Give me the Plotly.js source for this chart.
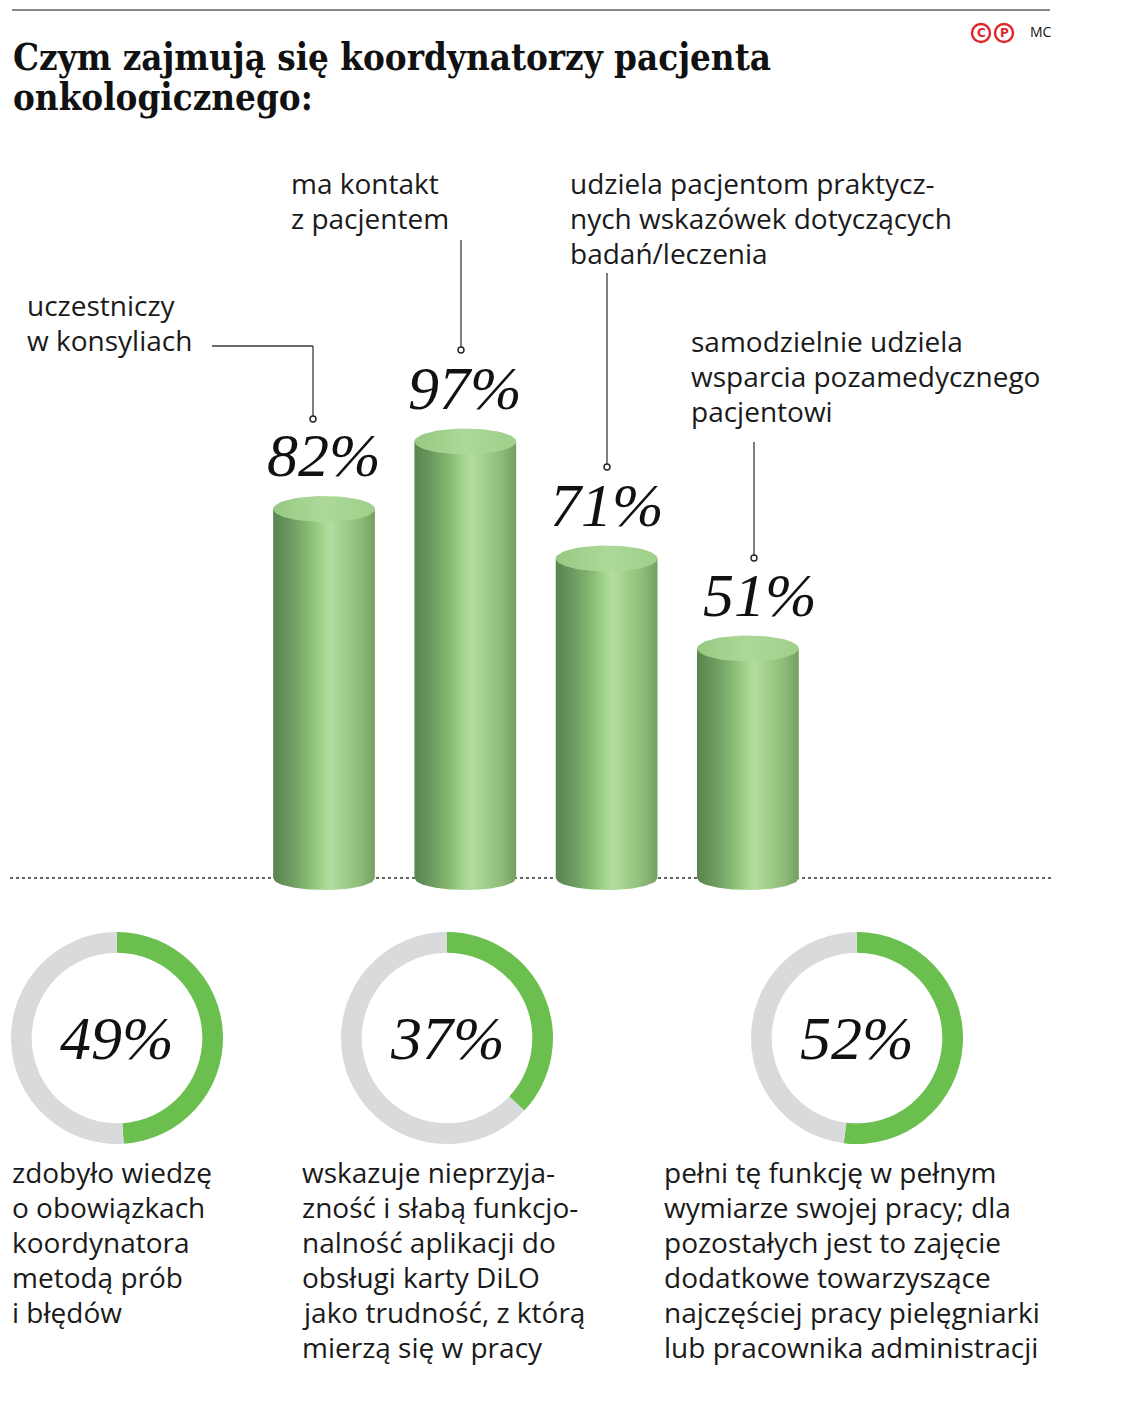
<!DOCTYPE html>
<html>
<head>
<meta charset="utf-8">
<script src="https://cdn.plot.ly/plotly-3.0.1.min.js"></script>
<style>html,body{margin:0;padding:0;background:#fff;}#chart{width:1131px;height:1425px;}</style>
</head>
<body>
<div id="chart"></div>
<script>
// ---------- DATA ----------
const titleLines = ["Czym zajmują się koordynatorzy pacjenta", "onkologicznego:"];
const barCategories = [
  "uczestniczy<br>w konsyliach",
  "ma kontakt<br>z pacjentem",
  "udziela pacjentom praktycz-<br>nych wskazówek dotyczących<br>badań/leczenia",
  "samodzielnie udziela<br>wsparcia pozamedycznego<br>pacjentowi"
];
const barValues = [82, 97, 71, 51];
const donutValues = [49, 37, 52];
const donutTexts = [
  "zdobyło wiedzę<br>o obowiązkach<br>koordynatora<br>metodą prób<br>i błędów",
  "wskazuje nieprzyja-<br>zność i słabą funkcjo-<br>nalność aplikacji do<br>obsługi karty DiLO<br>jako trudność, z którą<br>mierzą się w pracy",
  "pełni tę funkcję w pełnym<br>wymiarze swojej pracy; dla<br>pozostałych jest to zajęcie<br>dodatkowe towarzyszące<br>najczęściej pracy pielęgniarki<br>lub pracownika administracji"
];
const creditText = "MC";

// ---------- LAYOUT HELPERS ----------
const W = 1131, H = 1425;
const px = v => v / W;
const py = v => 1 - v / H;
const SANS = "Open Sans, Lato, sans-serif";
const SERIF_IT = "Liberation Serif, DejaVu Serif, serif";
const TITLE_FONT = "DejaVu Serif Condensed, DejaVu Serif, Liberation Serif, serif";
const LINE = 35;

// bar axis geometry
const firstCenter = 324, step = 141.3, baseline = 878, ppu = 4.5;
const halfW = 0.36;
const capRy = 13 / ppu;
const botRy = 12 / ppu;

const bodyScale = [
  [0, '#58844e'], [0.18, '#6d9b60'], [0.36, '#88bd74'], [0.48, '#a3d48e'],
  [0.56, '#b4dda2'], [0.68, '#a2d08d'], [0.85, '#8fbd79'], [1, '#749f61']
];

const traces = [];
barValues.forEach((v, i) => {
  const xs = [], ys = [];
  xs.push(i - halfW); ys.push(v);
  xs.push(i - halfW); ys.push(0);
  const n = 48;
  for (let k = 0; k <= n; k++) {
    const t = -1 + 2 * k / n;
    xs.push(i + halfW * t); ys.push(-botRy * Math.sqrt(Math.max(0, 1 - t * t)));
  }
  xs.push(i + halfW); ys.push(v);
  xs.push(i - halfW); ys.push(v);
  traces.push({
    type: 'scatter', mode: 'lines', x: xs, y: ys, fill: 'toself',
    line: { width: 0, color: 'rgba(0,0,0,0)' },
    fillgradient: { type: 'horizontal', colorscale: bodyScale },
    hoverinfo: 'skip', showlegend: false
  });
  const cx = [], cy = [];
  for (let k = 0; k <= 72; k++) {
    const a = 2 * Math.PI * k / 72;
    cx.push(i + halfW * Math.cos(a)); cy.push(v + capRy * Math.sin(a));
  }
  traces.push({
    type: 'scatter', mode: 'lines', x: cx, y: cy, fill: 'toself',
    line: { width: 0, color: 'rgba(0,0,0,0)' },
    fillgradient: { type: 'horizontal', colorscale: [[0, '#97c982'], [0.5, '#acd999'], [1, '#9fcf8a']] },
    hoverinfo: 'skip', showlegend: false
  });
});

// donuts
const donutCenters = [117, 447, 857], donutCy = 1038, donutR = 106;
donutValues.forEach((v, i) => {
  traces.push({
    type: 'pie', values: [v, 100 - v], sort: false, direction: 'clockwise', rotation: 0,
    hole: 0.805, marker: { colors: ['#6abf4f', '#d9dadb'], line: { width: 0 } },
    textinfo: 'none', hoverinfo: 'skip', showlegend: false,
    domain: { x: [px(donutCenters[i] - donutR), px(donutCenters[i] + donutR)],
              y: [py(donutCy + donutR), py(donutCy - donutR)] }
  });
});

// ---------- ANNOTATIONS ----------
const annotations = [];
titleLines.forEach((t, i) => {
  annotations.push({ xref: 'paper', yref: 'paper', x: px(11), y: py(57 + 40 * i), xanchor: 'left', yanchor: 'middle',
    text: '<b>' + t + '</b>', showarrow: false, font: { family: TITLE_FONT, size: 36.4, color: '#111' } });
});

function textBlock(text, x, firstY) {
  text.split('<br>').forEach((line, k) => {
    annotations.push({ xref: 'paper', yref: 'paper', x: px(x), y: py(firstY + LINE * k),
      xanchor: 'left', yanchor: 'middle', align: 'left', text: line, showarrow: false,
      font: { family: SANS, size: 28, color: '#1a1a1a', weight: 400 } });
  });
}

// category labels
const catPos = [[25, 305], [289, 183], [568, 183], [689, 341]];
barCategories.forEach((t, i) => textBlock(t, catPos[i][0], catPos[i][1]));

// value labels
const valShift = [0, 0, 0, 12];
barValues.forEach((v, i) => {
  annotations.push({ xref: 'x', yref: 'y', x: i, y: v, yshift: 54, xshift: valShift[i],
    xanchor: 'center', yanchor: 'middle', text: '<i>' + v + '%</i>', showarrow: false,
    font: { family: SERIF_IT, size: 62, color: '#111' } });
});

// donut value + text
donutValues.forEach((v, i) => {
  annotations.push({ xref: 'paper', yref: 'paper', x: px(donutCenters[i]), y: py(donutCy),
    xanchor: 'center', yanchor: 'middle', text: '<i>' + v + '%</i>', showarrow: false,
    font: { family: SERIF_IT, size: 62, color: '#111' } });
});
const dTextPos = [[10, 1172], [300, 1172], [662, 1172]];
donutTexts.forEach((t, i) => textBlock(t, dTextPos[i][0], dTextPos[i][1]));

// credit
annotations.push({ xref: 'paper', yref: 'paper', x: px(981), y: py(33), xanchor: 'center', yanchor: 'middle',
  text: '<b>C</b>', showarrow: false, font: { family: 'DejaVu Sans', size: 12, color: '#e0262b' } });
annotations.push({ xref: 'paper', yref: 'paper', x: px(1004), y: py(33), xanchor: 'center', yanchor: 'middle',
  text: '<b>P</b>', showarrow: false, font: { family: 'DejaVu Sans', size: 12, color: '#e0262b' } });
annotations.push({ xref: 'paper', yref: 'paper', x: px(1028), y: py(32), xanchor: 'left', yanchor: 'middle',
  text: creditText, showarrow: false, font: { family: 'Open Sans', size: 14, color: '#111' } });

// ---------- SHAPES ----------
const LC = '#3a3a3a';
const shapes = [
  { type: 'line', xref: 'paper', yref: 'paper', x0: px(12), x1: px(1050), y0: py(10), y1: py(10), line: { color: '#111', width: 1.2 } },
  { type: 'line', xref: 'paper', yref: 'paper', x0: px(10), x1: px(1052), y0: py(baseline), y1: py(baseline), layer: 'below', line: { color: '#333', width: 1.5, dash: 'dot' } },
  { type: 'line', xref: 'paper', yref: 'paper', x0: px(212), x1: px(313), y0: py(346), y1: py(346), line: { color: LC, width: 1.3 } },
  { type: 'line', xref: 'paper', yref: 'paper', x0: px(313), x1: px(313), y0: py(346), y1: py(416), line: { color: LC, width: 1.3 } },
  { type: 'line', xref: 'paper', yref: 'paper', x0: px(461), x1: px(461), y0: py(240), y1: py(347), line: { color: LC, width: 1.3 } },
  { type: 'line', xref: 'paper', yref: 'paper', x0: px(607), x1: px(607), y0: py(273), y1: py(464), line: { color: LC, width: 1.3 } },
  { type: 'line', xref: 'paper', yref: 'paper', x0: px(754), x1: px(754), y0: py(442), y1: py(555), line: { color: LC, width: 1.3 } },
  { type: 'circle', xref: 'paper', yref: 'paper', x0: px(972), x1: px(990), y0: py(42), y1: py(24), line: { color: '#e0262b', width: 2.4 } },
  { type: 'circle', xref: 'paper', yref: 'paper', x0: px(995), x1: px(1013), y0: py(42), y1: py(24), line: { color: '#e0262b', width: 2.4 } }
];
[[313, 419], [461, 350], [607, 467], [754, 558]].forEach(d => {
  shapes.push({ type: 'circle', xref: 'paper', yref: 'paper', x0: px(d[0] - 3), x1: px(d[0] + 3), y0: py(d[1] + 3), y1: py(d[1] - 3),
    fillcolor: '#fff', line: { color: '#222', width: 1.4 } });
});

const layout = {
  width: W, height: H, margin: { l: 0, r: 0, t: 0, b: 0 },
  paper_bgcolor: '#fff', plot_bgcolor: 'rgba(0,0,0,0)', showlegend: false,
  xaxis: { domain: [0, 1], range: [-firstCenter / step, (W - firstCenter) / step], visible: false, fixedrange: true },
  yaxis: { domain: [0, 1], range: [-(H - baseline) / ppu, baseline / ppu], visible: false, fixedrange: true },
  annotations, shapes
};

Plotly.newPlot('chart', traces, layout, { displayModeBar: false, staticPlot: true });
</script>
</body>
</html>
